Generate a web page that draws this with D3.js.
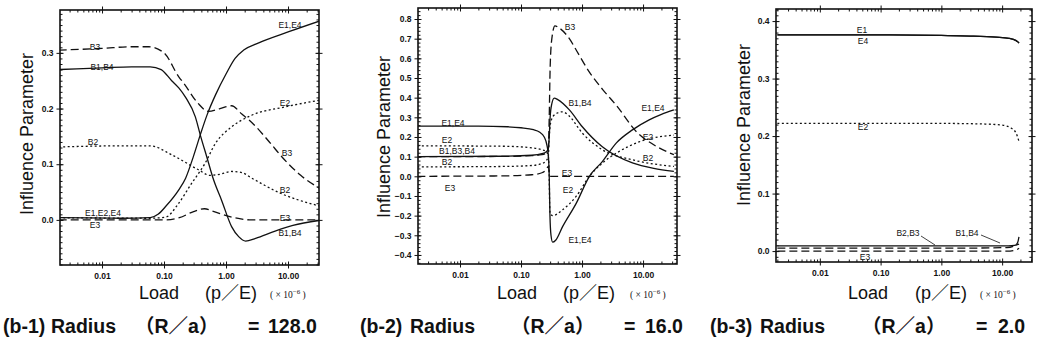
<!DOCTYPE html>
<html>
<head>
<meta charset="utf-8">
<script src="https://cdn.jsdelivr.net/npm/d3@7"></script>
<style>
body { margin: 0; background: #fff; }
svg { display: block; }
</style>
</head>
<body>
<svg id="chart" width="1049" height="354"></svg>
<script>
// tick values and labels
var xTicks = [0.01, 0.1, 1, 10]
var xTickLabels = ["0.01", "0.10", "1.00", "10.00"]
var yTicks1 = [0, 0.1, 0.2, 0.3]
var yTicks2 = [-0.4, -0.3, -0.2, -0.1, 0, 0.1, 0.2, 0.3, 0.4, 0.5, 0.6, 0.7, 0.8]
var yTicks3 = [0, 0.1, 0.2, 0.3, 0.4]

// (b-1) R/a = 128.0   [load, influence]
var p1_B1B4 = [[0.002,0.27],[0.01,0.273],[0.03,0.275],[0.06,0.275],[0.09,0.27],[0.133,0.25],[0.173,0.237],[0.223,0.22],[0.32,0.185],[0.39,0.15],[0.49,0.113],[0.63,0.072],[0.85,0.035],[1.23,-0.012],[1.6,-0.03],[2.07,-0.038],[3,-0.033],[6.2,-0.02],[12,-0.01],[32,-0.001]]
var p1_E1E4 = [[0.002,0.004],[0.02,0.003],[0.06,0.004],[0.08,0.01],[0.106,0.024],[0.173,0.054],[0.223,0.075],[0.3,0.115],[0.39,0.155],[0.5,0.19],[0.68,0.225],[1.0,0.262],[1.4,0.29],[1.93,0.305],[3.37,0.318],[10.3,0.338],[32,0.357]]
var p1_E2 = [[0.002,0.004],[0.06,0.003],[0.106,0.005],[0.173,0.03],[0.28,0.066],[0.363,0.084],[0.45,0.1],[0.68,0.138],[1.23,0.167],[2.6,0.188],[9,0.203],[32,0.215]]
var p1_B2 = [[0.002,0.131],[0.02,0.133],[0.06,0.133],[0.133,0.117],[0.36,0.09],[0.55,0.08],[0.8,0.082],[1.23,0.087],[1.8,0.085],[2.6,0.075],[7.5,0.048],[32,0.025]]
var p1_B3 = [[0.002,0.305],[0.01,0.308],[0.03,0.311],[0.057,0.311],[0.1,0.3],[0.173,0.257],[0.21,0.245],[0.35,0.21],[0.52,0.195],[0.8,0.2],[1.23,0.205],[1.8,0.19],[2.6,0.175],[5,0.14],[8,0.113],[16,0.08],[32,0.057]]
var p1_E3 = [[0.002,0.0],[0.1,0.0],[0.177,0.004],[0.3,0.015],[0.45,0.02],[0.6,0.016],[1.23,0.005],[2.6,0.0],[32,0.0]]

// (b-2) R/a = 16.0
var p2_E1E4 = [[0.002,0.255],[0.02,0.255],[0.06,0.252],[0.1,0.247],[0.16,0.237],[0.2,0.225],[0.24,0.2],[0.265,0.16],[0.28,0.11],[0.29,0.0],[0.298,-0.2],[0.31,-0.3],[0.33,-0.335],[0.37,-0.325],[0.48,-0.256],[0.81,-0.135],[1.32,0.0],[2.15,0.075],[3.66,0.17],[6.7,0.236],[12.6,0.287],[20,0.315],[32,0.338]]
var p2_B1B4 = [[0.002,0.1],[0.05,0.102],[0.15,0.107],[0.22,0.115],[0.26,0.125],[0.28,0.14],[0.29,0.2],[0.3,0.3],[0.32,0.37],[0.35,0.398],[0.4,0.39],[0.62,0.338],[1.01,0.252],[2.15,0.15],[6.7,0.068],[15,0.04],[32,0.025]]
var p2_B3 = [[0.002,0.1],[0.05,0.101],[0.15,0.105],[0.22,0.11],[0.26,0.12],[0.28,0.14],[0.29,0.3],[0.3,0.55],[0.32,0.7],[0.36,0.765],[0.42,0.755],[0.62,0.7],[0.81,0.64],[1.32,0.53],[2.2,0.44],[3.66,0.36],[7.9,0.225],[16,0.155],[32,0.11]]
var p2_E2 = [[0.002,0.155],[0.05,0.153],[0.15,0.145],[0.22,0.135],[0.26,0.125],[0.28,0.1],[0.29,0.0],[0.295,-0.15],[0.3,-0.19],[0.33,-0.2],[0.48,-0.17],[0.81,-0.1],[1.32,0.0],[2.2,0.07],[3.66,0.118],[8.6,0.175],[32,0.21]]
var p2_B2 = [[0.002,0.048],[0.05,0.05],[0.15,0.055],[0.22,0.065],[0.26,0.08],[0.28,0.1],[0.29,0.2],[0.31,0.28],[0.36,0.315],[0.48,0.328],[0.6,0.31],[1.01,0.22],[2.15,0.135],[6.7,0.084],[32,0.05]]
var p2_E3 = [[0.002,0.0],[0.05,0.002],[0.15,0.008],[0.22,0.018],[0.26,0.035],[0.28,0.05],[0.29,0.02],[0.3,0.0],[32,0.0]]

// (b-3) R/a = 2.0
var p3_E1 = [[0.002,0.376],[0.1,0.376],[1,0.375],[3,0.374],[8,0.372],[13,0.37],[17,0.366],[19,0.362]]
var p3_E4 = [[0.002,0.376],[0.1,0.376],[1,0.375],[3,0.374],[8,0.372],[13,0.37],[17,0.366],[19,0.362]]
var p3_E2 = [[0.002,0.222],[1,0.222],[5,0.221],[10,0.219],[14,0.214],[17,0.205],[19,0.19]]
var p3_B2B3 = [[0.002,0.009],[1,0.009],[10,0.009],[16,0.01],[19,0.012]]
var p3_B1B4 = [[0.002,0.005],[1,0.005],[12,0.006],[16,0.009],[18,0.015],[19,0.026]]
var p3_E3 = [[0.002,0.0],[1,0.0],[12,0.0],[17,0.002],[19,0.005]]

var captionIds = ["(b-1)", "(b-2)", "(b-3)"]
var radii = ["128.0", "16.0", "2.0"]

var SOLID = null, DASH = "8,4", DOT = "2,2.5"

var panels = [
  {left: 60, right: 319, top: 10, bottom: 265, xDomain: [0.0021, 31.6], yDomain: [-0.081, 0.377], yTicks: yTicks1, yMinor: 0.01,
   series: [[p1_B1B4, SOLID], [p1_E1E4, SOLID], [p1_E2, DOT], [p1_B2, DOT], [p1_B3, DASH], [p1_E3, DASH]],
   labels: [["E1,E4",290,25],["B3",95,47],["B1,B4",102,67],["E2",285,103],["B2",93,142],["B3",287,153],["B2",285,190],["E1,E2,E4",103,213],["E3",95,225],["E3",285,218],["B1,B4",290,233]],
   yTitle: [33, 134], load: [139, 205, 270], cap: [3, 51, 135, 248, 268]},
  {left: 418, right: 677, top: 8, bottom: 264, xDomain: [0.00205, 36], yDomain: [-0.446, 0.856], yTicks: yTicks2, yMinor: 0.02,
   series: [[p2_E1E4, SOLID], [p2_B1B4, SOLID], [p2_B3, DASH], [p2_E2, DOT], [p2_B2, DOT], [p2_E3, DASH]],
   labels: [["B3",570,27],["B1,B4",580,103],["E1,E4",653,108],["E1,E4",453,123],["E2",447,140],["B1,B3,B4",457,151],["B2",447,162],["E3",450,188],["E2",648,137],["B2",648,158],["E3",567,173],["E2",568,190],["E1,E4",580,240]],
   yTitle: [390, 137], load: [497, 563, 630], cap: [360, 410, 511, 624, 645]},
  {left: 776, right: 1032, top: 9, bottom: 262, xDomain: [0.0019, 31], yDomain: [-0.019, 0.421], yTicks: yTicks3, yMinor: 0.01,
   series: [[p3_E1, SOLID], [p3_E4, SOLID], [p3_E2, DOT], [p3_B2B3, SOLID], [p3_B1B4, DASH], [p3_E3, DASH]],
   labels: [["E1",862,30],["E4",863,41],["E2",863,127],["B2,B3",908,233],["B1,B4",967,233],["E3",865,257]],
   leaders: [[[921,236],[935,245]],[[981,235],[1000,243]]],
   yTitle: [750, 125], load: [848, 915, 980], cap: [710, 760, 862, 976, 998]}
]

var svg = d3.select("#chart")
svg.append("rect").attr("width", 1049).attr("height", 354).attr("fill", "#fff")

panels.forEach(function(p, i) {
  var x = d3.scaleLog().domain(p.xDomain).range([p.left, p.right])
  var y = d3.scaleLinear().domain(p.yDomain).range([p.bottom, p.top])
  var g = svg.append("g")

  g.append("clipPath").attr("id", "clip" + i)
    .append("rect")
    .attr("x", p.left).attr("y", p.top)
    .attr("width", p.right - p.left).attr("height", p.bottom - p.top)

  // minor ticks
  var xMinor = []
  for (var e = -3; e <= 1; e++) {
    for (var k = 2; k <= 9; k++) {
      var v = k * Math.pow(10, e)
      if (v > p.xDomain[0] && v < p.xDomain[1]) xMinor.push(v)
    }
  }
  var yMinor = d3.range(Math.ceil(p.yDomain[0] / p.yMinor), Math.floor(p.yDomain[1] / p.yMinor) + 1).map(function(k) { return k * p.yMinor })

  var axes = [
    [d3.axisBottom(x), p.bottom, "x"], [d3.axisTop(x), p.top, "x"],
    [d3.axisLeft(y), p.left, "y"], [d3.axisRight(y), p.right, "y"]
  ]
  axes.forEach(function(a, j) {
    var tr = a[2] == "x" ? "translate(0," + a[1] + ")" : "translate(" + a[1] + ",0)"
    // minor, inward
    g.append("g").attr("transform", tr)
      .call(a[0].tickValues(a[2] == "x" ? xMinor : yMinor).tickSize(-2.5).tickFormat(""))
    // major, inward half
    g.append("g").attr("transform", tr)
      .call(a[0].tickValues(a[2] == "x" ? xTicks : p.yTicks).tickSize(-3.5).tickFormat(""))
    // major, outward half with labels on bottom/left
    var ax = a[0].tickValues(a[2] == "x" ? xTicks : p.yTicks).tickSize(3.5).tickPadding(a[2] == "x" ? 4 : 3)
    if (j == 0) ax.tickFormat(function(d, n) { return xTickLabels[n] })
    else if (j == 2) ax.tickFormat(function(d) { return d3.format(".1f")(d) })
    else ax.tickFormat("")
    g.append("g").attr("transform", tr).call(ax)
  })
  g.selectAll(".domain").remove()
  g.selectAll(".tick line").attr("stroke", "#111").attr("stroke-width", 1)
  g.selectAll(".tick text")
    .attr("font-family", "Liberation Sans, Arial, sans-serif")
    .attr("font-size", 8.5).attr("font-weight", "bold").attr("fill", "#111")

  var line = d3.line()
    .x(function(d) { return x(d[0]) })
    .y(function(d) { return y(d[1]) })
    .curve(d3.curveMonotoneX)

  g.append("g").attr("clip-path", "url(#clip" + i + ")")
    .selectAll("path")
    .data(p.series)
    .join("path")
    .attr("d", function(s) { return line(s[0]) })
    .attr("fill", "none")
    .attr("stroke", "#111")
    .attr("stroke-width", 1.3)
    .attr("stroke-dasharray", function(s) { return s[1] })

  g.append("rect")
    .attr("x", p.left).attr("y", p.top)
    .attr("width", p.right - p.left).attr("height", p.bottom - p.top)
    .attr("fill", "none").attr("stroke", "#111").attr("stroke-width", 1.6)

  g.selectAll("text.lbl")
    .data(p.labels)
    .join("text")
    .attr("class", "lbl")
    .attr("x", function(d) { return d[1] })
    .attr("y", function(d) { return d[2] })
    .attr("text-anchor", "middle")
    .attr("dominant-baseline", "central")
    .attr("font-family", "Liberation Sans, Arial, sans-serif")
    .attr("font-size", 8.5)
    .attr("fill", "#111")
    .text(function(d) { return d[0] })

  if (p.leaders) {
    g.selectAll("path.leader")
      .data(p.leaders)
      .join("path")
      .attr("class", "leader")
      .attr("d", function(d) { return "M" + d[0] + "L" + d[1] })
      .attr("stroke", "#111").attr("stroke-width", 0.8).attr("fill", "none")
  }

  g.append("text")
    .attr("transform", "translate(" + p.yTitle[0] + "," + p.yTitle[1] + ") rotate(-90)")
    .attr("text-anchor", "middle")
    .attr("font-family", "Liberation Sans, Arial, sans-serif")
    .attr("font-size", 18)
    .attr("fill", "#111")
    .text("Influence Parameter")

  var t = g.append("g")
    .attr("font-family", "Liberation Sans, Noto Sans CJK JP, sans-serif")
    .attr("font-size", 18).attr("fill", "#111")
  t.append("text").attr("x", p.load[0]).attr("y", 299).text("Load")
  t.append("text").attr("x", p.load[1]).attr("y", 299).text("(p／E)")
  var u = t.append("text").attr("x", p.load[2]).attr("y", 298)
    .attr("font-family", "Liberation Serif, serif").attr("font-size", 9.5)
  u.append("tspan").text("( × 10")
  u.append("tspan").attr("dy", -4).attr("font-size", 7).text("−6")
  u.append("tspan").attr("dy", 4).text(" )")

  var c = g.append("g")
    .attr("font-family", "Liberation Sans, Noto Sans CJK JP, sans-serif")
    .attr("font-size", 19.5).attr("font-weight", "bold").attr("fill", "#111")
  var parts = [captionIds[i], "Radius", "（R／a）", "=", radii[i]]
  parts.forEach(function(s, n) {
    c.append("text").attr("x", p.cap[n]).attr("y", 333).text(s)
  })
})
</script>
</body>
</html>
